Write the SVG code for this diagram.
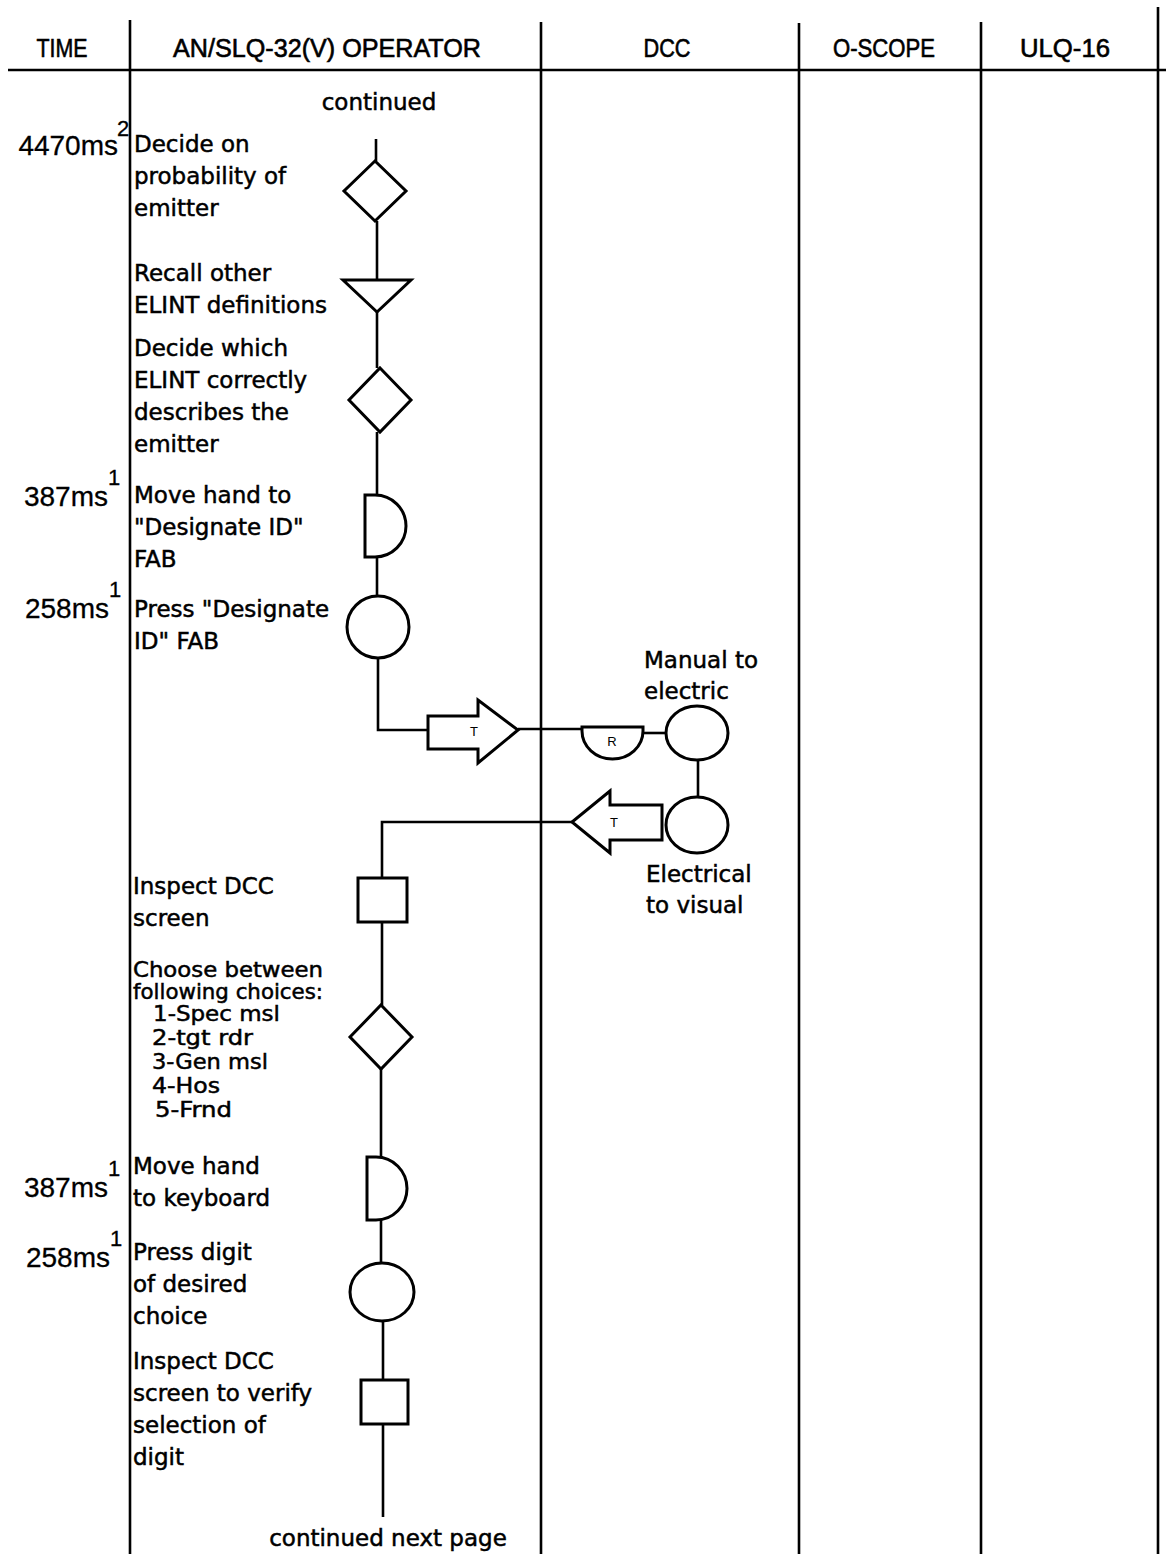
<svg xmlns="http://www.w3.org/2000/svg" width="1166" height="1554" viewBox="0 0 1166 1554">
<style>
.grid{stroke:#000;stroke-width:2.6;fill:none}
.flow{stroke:#000;stroke-width:2.6;fill:none}
.shape{stroke:#000;stroke-width:3;fill:#fff}
.hd{font-family:"Liberation Sans",Arial,sans-serif;font-size:25px;fill:#000;stroke:#000;stroke-width:0.6;text-anchor:middle}
.tx{font-family:"DejaVu Sans",sans-serif;font-size:23px;fill:#000;stroke:#000;stroke-width:0.5}
.ls{font-family:"DejaVu Sans",sans-serif;font-size:21px;fill:#000;stroke:#000;stroke-width:0.5}
.tm{font-family:"Liberation Sans",Arial,sans-serif;font-size:28px;fill:#000;stroke:#000;stroke-width:0.3;text-anchor:end}
.sup{font-family:"Liberation Sans",Arial,sans-serif;font-size:22px;fill:#000;stroke:#000;stroke-width:0.3}
.sm{font-family:"Liberation Sans",Arial,sans-serif;font-size:13px;fill:#000;text-anchor:middle}
</style>
<rect width="1166" height="1554" fill="#fff"/>
<g id="grid">
<line class="grid" x1="8" y1="70" x2="1166" y2="70" stroke-width="3"/>
<line class="grid" x1="130" y1="20" x2="130" y2="1554"/>
<line class="grid" x1="541" y1="22" x2="541" y2="1554"/>
<line class="grid" x1="799" y1="23" x2="799" y2="1554"/>
<line class="grid" x1="981" y1="22" x2="981" y2="1554"/>
<line class="grid" x1="1158" y1="7" x2="1158" y2="1554"/>
</g>
<g id="headers">
<text class="hd" x="62" y="57" textLength="51" lengthAdjust="spacingAndGlyphs">TIME</text>
<text class="hd" x="327" y="57" textLength="308" lengthAdjust="spacingAndGlyphs">AN/SLQ-32(V) OPERATOR</text>
<text class="hd" x="667" y="57" textLength="47" lengthAdjust="spacingAndGlyphs">DCC</text>
<text class="hd" x="884" y="57" textLength="102" lengthAdjust="spacingAndGlyphs">O-SCOPE</text>
<text class="hd" x="1065" y="57" textLength="90" lengthAdjust="spacingAndGlyphs">ULQ-16</text>
</g>
<g id="connectors">
<line class="flow" x1="376" y1="139" x2="376" y2="161"/>
<line class="flow" x1="377" y1="221" x2="377" y2="280"/>
<line class="flow" x1="377" y1="312" x2="377" y2="368"/>
<line class="flow" x1="377" y1="432" x2="377" y2="495"/>
<line class="flow" x1="377" y1="557" x2="377" y2="596"/>
<polyline class="flow" points="378,658 378,730 428,730"/>
<line class="flow" x1="518" y1="729" x2="582" y2="729"/>
<line class="flow" x1="643" y1="733" x2="666" y2="733"/>
<line class="flow" x1="698" y1="759" x2="698" y2="797"/>
<polyline class="flow" points="572,822 382,822 382,878"/>
<line class="flow" x1="382" y1="922" x2="382" y2="1005"/>
<line class="flow" x1="381" y1="1069" x2="381" y2="1157"/>
<line class="flow" x1="381" y1="1220" x2="381" y2="1263"/>
<line class="flow" x1="383" y1="1321" x2="383" y2="1380"/>
<line class="flow" x1="383" y1="1424" x2="383" y2="1517"/>
</g>
<g id="n1"><polygon class="shape" points="375,161 406,191 375,221 344,191"/></g>
<g id="n2"><polygon class="shape" points="343,280 411,280 377,312"/></g>
<g id="n3"><polygon class="shape" points="380,368 411,400 380,432 349,400"/></g>
<g id="n4"><path class="shape" d="M365,495 H375 A31,31 0 0 1 375,557 H365 Z"/></g>
<g id="n5"><ellipse class="shape" cx="378" cy="627" rx="31" ry="31"/></g>
<g id="n6"><polygon class="shape" points="428,716 478,716 478,700 518,730 478,763 478,749 428,749"/><text class="sm" x="474" y="736">T</text></g>
<g id="n7"><path class="shape" d="M582,727 H643 V731 A30.5,28 0 0 1 582,731 Z"/><text class="sm" x="612" y="746">R</text></g>
<g id="n8"><ellipse class="shape" cx="697" cy="733" rx="31" ry="27"/></g>
<g id="n9"><ellipse class="shape" cx="697" cy="825" rx="31" ry="28"/></g>
<g id="n10"><polygon class="shape" points="662,805 610,805 610,791 572,822 610,853 610,840 662,840"/><text class="sm" x="614" y="827">T</text></g>
<g id="n11"><rect class="shape" x="358" y="878" width="49" height="44"/></g>
<g id="n12"><polygon class="shape" points="381,1005 412,1037 381,1069 350,1037"/></g>
<g id="n13"><path class="shape" d="M367,1157 H376 A31,31.5 0 0 1 376,1220 H367 Z"/></g>
<g id="n14"><ellipse class="shape" cx="382" cy="1292" rx="32" ry="29"/></g>
<g id="n15"><rect class="shape" x="361" y="1380" width="47" height="44"/></g>
<g id="labels">
<text class="tx" x="379" y="110" text-anchor="middle">continued</text>
<text class="tx" x="388" y="1546" text-anchor="middle">continued next page</text>
<text class="tx" x="134" y="152">Decide on</text>
<text class="tx" x="134" y="184">probability of</text>
<text class="tx" x="134" y="216">emitter</text>
<text class="tx" x="134" y="281">Recall other</text>
<text class="tx" x="134" y="313">ELINT definitions</text>
<text class="tx" x="134" y="356">Decide which</text>
<text class="tx" x="134" y="388">ELINT correctly</text>
<text class="tx" x="134" y="420">describes the</text>
<text class="tx" x="134" y="452">emitter</text>
<text class="tx" x="134" y="503">Move hand to</text>
<text class="tx" x="134" y="535">"Designate ID"</text>
<text class="tx" x="134" y="567">FAB</text>
<text class="tx" x="134" y="617">Press "Designate</text>
<text class="tx" x="134" y="649">ID" FAB</text>
<text class="tx" x="644" y="668">Manual to</text>
<text class="tx" x="644" y="699">electric</text>
<text class="tx" x="646" y="882">Electrical</text>
<text class="tx" x="646" y="913">to visual</text>
<text class="tx" x="133" y="894">Inspect DCC</text>
<text class="tx" x="133" y="926">screen</text>
<text class="ls" x="133" y="977" textLength="190" lengthAdjust="spacingAndGlyphs">Choose between</text>
<text class="ls" x="133" y="999" textLength="190" lengthAdjust="spacingAndGlyphs">following choices:</text>
<text class="ls" x="153" y="1021" textLength="127" lengthAdjust="spacingAndGlyphs">1-Spec msl</text>
<text class="ls" x="152" y="1045" textLength="101" lengthAdjust="spacingAndGlyphs">2-tgt rdr</text>
<text class="ls" x="152" y="1069" textLength="116" lengthAdjust="spacingAndGlyphs">3-Gen msl</text>
<text class="ls" x="152" y="1093" textLength="68" lengthAdjust="spacingAndGlyphs">4-Hos</text>
<text class="ls" x="155" y="1117" textLength="77" lengthAdjust="spacingAndGlyphs">5-Frnd</text>
<text class="tx" x="133" y="1174">Move hand</text>
<text class="tx" x="133" y="1206">to keyboard</text>
<text class="tx" x="133" y="1260">Press digit</text>
<text class="tx" x="133" y="1292">of desired</text>
<text class="tx" x="133" y="1324">choice</text>
<text class="tx" x="133" y="1369">Inspect DCC</text>
<text class="tx" x="133" y="1401">screen to verify</text>
<text class="tx" x="133" y="1433">selection of</text>
<text class="tx" x="133" y="1465">digit</text>
</g>
<g id="times">
<text class="tm" x="118" y="155">4470ms</text><text class="sup" x="117" y="136">2</text>
<text class="tm" x="108" y="506">387ms</text><text class="sup" x="108" y="485">1</text>
<text class="tm" x="109" y="618">258ms</text><text class="sup" x="109" y="597">1</text>
<text class="tm" x="108" y="1197">387ms</text><text class="sup" x="108" y="1176">1</text>
<text class="tm" x="110" y="1267">258ms</text><text class="sup" x="110" y="1246">1</text>
</g>
</svg>
